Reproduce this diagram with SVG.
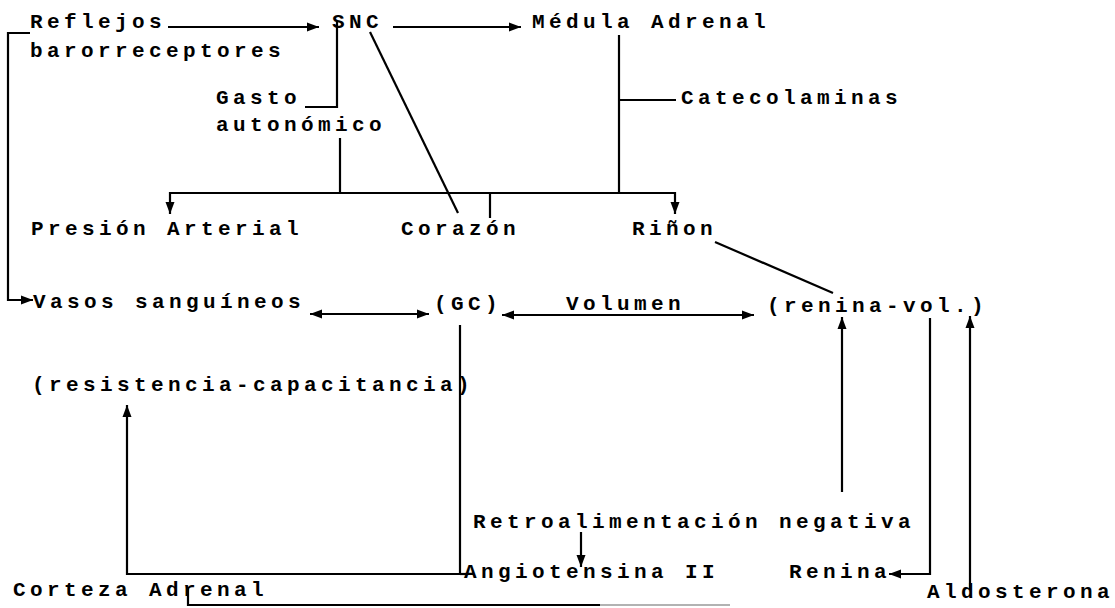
<svg xmlns="http://www.w3.org/2000/svg" width="1115" height="608" viewBox="0 0 1115 608">
<defs>
<marker id="ah" markerUnits="userSpaceOnUse" markerWidth="13" markerHeight="11" refX="12" refY="5.5" orient="auto-start-reverse">
<path d="M0,1 L12,5.5 L0,10 Z" fill="#000"/>
</marker>
<style>
.t{font-family:"Liberation Mono","DejaVu Sans Mono",monospace;font-size:21px;font-weight:bold;letter-spacing:4.4px;fill:#000}
.c{stroke:#000;stroke-width:2.2;fill:none}
.a{marker-end:url(#ah)}
.d{marker-start:url(#ah);marker-end:url(#ah)}
</style>
</defs>
<rect width="1115" height="608" fill="#fff"/>
<g id="connectors">
<line class="c a" x1="168" y1="27" x2="319" y2="27"/>
<line class="c a" x1="393" y1="27" x2="521" y2="27"/>
<path class="c" d="M337,20 V107 H305"/>
<line class="c" x1="370" y1="32" x2="458" y2="213"/>
<line class="c" x1="340" y1="138" x2="340" y2="193"/>
<path class="c a" d="M340,193 H170 V214"/>
<path class="c a" d="M340,193 H675 V214"/>
<line class="c" x1="490" y1="193" x2="490" y2="218"/>
<line class="c" x1="619" y1="35" x2="619" y2="193"/>
<line class="c" x1="619" y1="100" x2="676" y2="100"/>
<path class="c a" d="M30,33 H8 V300 H33"/>
<line class="c d" x1="310" y1="314" x2="429" y2="314"/>
<line class="c d" x1="502" y1="315" x2="754" y2="315"/>
<line class="c" x1="715" y1="242" x2="833" y2="293"/>
<path class="c a" d="M460,325 V574 H127 V405"/>
<line class="c" x1="460" y1="574" x2="466" y2="574"/>
<line class="c a" x1="581" y1="532" x2="581" y2="567"/>
<line class="c a" x1="842" y1="492" x2="842" y2="317"/>
<path class="c a" d="M930,318 V574 H889"/>
<line class="c a" x1="970" y1="590" x2="970" y2="316"/>
<path class="c" d="M188,588 V605 H600"/>
<line x1="600" y1="605" x2="730" y2="605" stroke="#999" stroke-width="1.5"/>
</g>
<g id="n-reflejos"><text class="t" x="30" y="28">Reflejos</text><text class="t" x="30" y="57">barorreceptores</text></g>
<g id="n-snc"><text class="t" x="332" y="28">SNC</text></g>
<g id="n-medula"><text class="t" x="532" y="28">Médula Adrenal</text></g>
<g id="n-gasto"><text class="t" x="216" y="104">Gasto</text><text class="t" x="216" y="131">autonómico</text></g>
<g id="n-catecolaminas"><text class="t" x="681" y="104">Catecolaminas</text></g>
<g id="n-presion"><text class="t" x="31" y="235">Presión Arterial</text></g>
<g id="n-corazon"><text class="t" x="401" y="235">Corazón</text></g>
<g id="n-rinon"><text class="t" x="632" y="235">Riñon</text></g>
<g id="n-vasos"><text class="t" x="33" y="308">Vasos sanguíneos</text></g>
<g id="n-gc"><text class="t" x="434" y="310">(GC)</text></g>
<g id="n-volumen"><text class="t" x="566" y="310">Volumen</text></g>
<g id="n-reninavol"><text class="t" x="767" y="312">(renina-vol.)</text></g>
<g id="n-resistencia"><text class="t" x="32" y="391">(resistencia-capacitancia)</text></g>
<g id="n-retro"><text class="t" x="473" y="528">Retroalimentación negativa</text></g>
<g id="n-angiotensina"><text class="t" x="464" y="578">Angiotensina II</text></g>
<g id="n-renina"><text class="t" x="789" y="578">Renina</text></g>
<g id="n-corteza"><text class="t" x="13" y="596">Corteza Adrenal</text></g>
<g id="n-aldosterona"><text class="t" x="927" y="598">Aldosterona</text></g>
</svg>
